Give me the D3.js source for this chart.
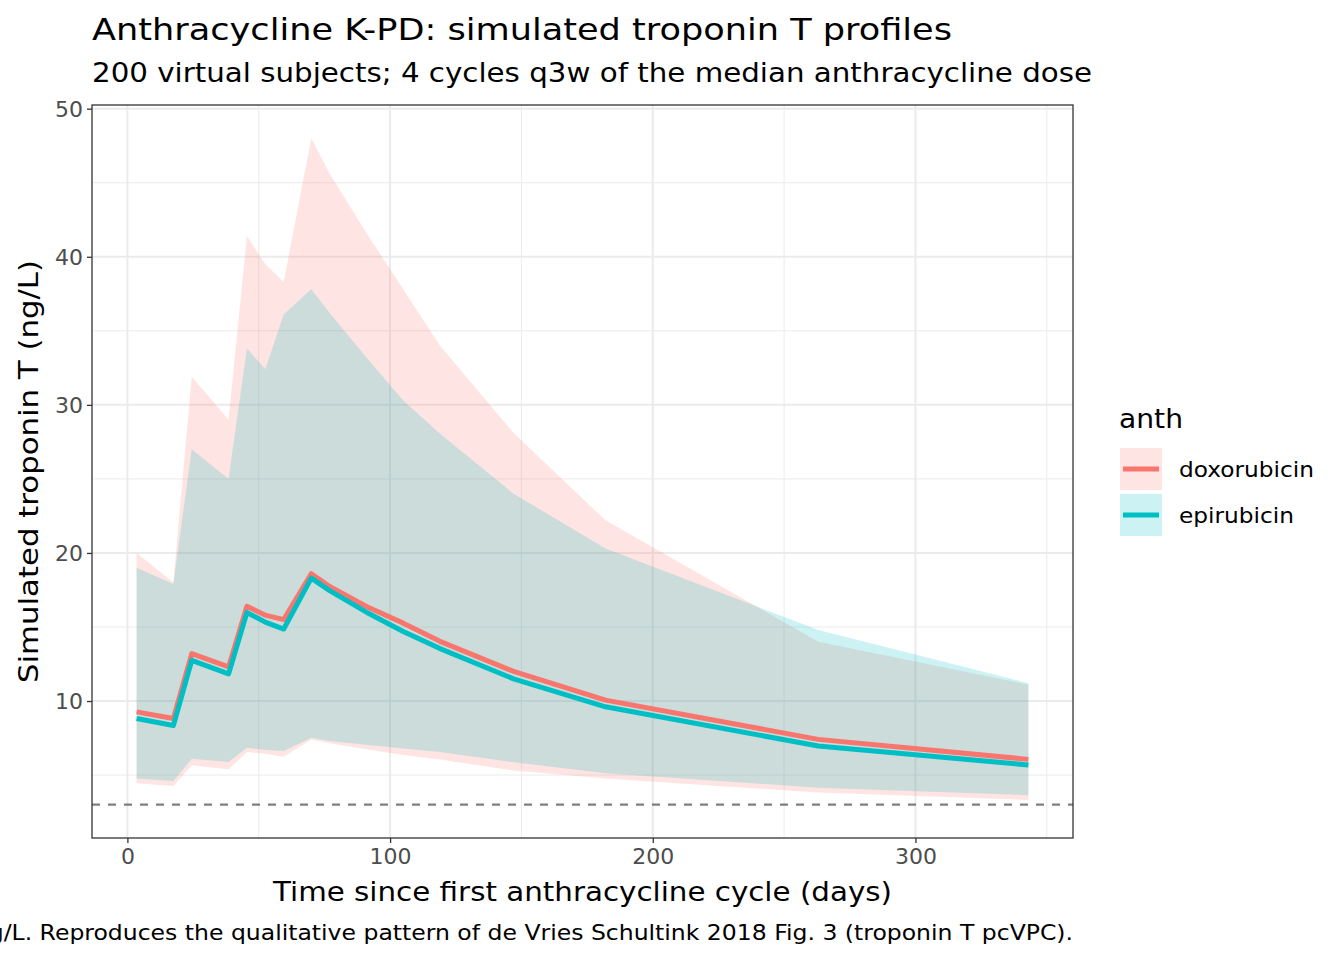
<!DOCTYPE html>
<html>
<head>
<meta charset="utf-8">
<script src="https://cdn.jsdelivr.net/npm/d3@7"></script>
<style>
  body { margin: 0; background: #fff; }
  text { font-family: "DejaVu Sans", sans-serif; }
</style>
</head>
<body>
<script>
const W = 1344, H = 960;

// sampling times (days since first cycle)
const times = [3.5, 17.5, 24.5, 38.5, 45.5, 52.5, 59.5, 70, 77, 91, 105, 119, 147, 182, 263, 343];

// doxorubicin: median and 5th / 95th percentile
const doxMed = [9.27, 8.82, 13.2, 12.3, 16.4, 15.8, 15.5, 18.6, 17.73, 16.38, 15.26, 14.03, 12.0, 10.06, 7.41, 6.06];
const doxLo  = [4.44, 4.26, 5.66, 5.39, 6.55, 6.44, 6.24, 7.41, 7.15, 6.75, 6.35, 6.05, 5.3, 4.76, 3.82, 3.32];
const doxHi  = [20.0, 18.0, 31.9, 29.0, 41.4, 39.5, 38.3, 48.0, 45.6, 41.6, 37.8, 34.0, 28.1, 22.2, 14.0, 11.1];

// epirubicin
const epiMed = [8.82, 8.35, 12.75, 11.83, 15.98, 15.33, 14.86, 18.3, 17.46, 16.0, 14.7, 13.54, 11.5, 9.61, 6.96, 5.68];
const epiLo  = [4.76, 4.6, 6.1, 5.88, 6.85, 6.69, 6.62, 7.52, 7.3, 7.05, 6.8, 6.55, 5.87, 5.12, 4.15, 3.64];
const epiHi  = [19.0, 17.9, 27.0, 25.0, 33.8, 32.4, 36.1, 37.8, 36.2, 33.2, 30.3, 28.05, 24.0, 20.3, 14.8, 11.2];

const groups = ["doxorubicin", "epirubicin"];
const colors = ["#F8766D", "#00BFC4"];
const lloq = 3;

const xTicks = [0, 100, 200, 300];
const xMinor = [50, 150, 250, 350];
const yTicks = [10, 20, 30, 40, 50];
const yMinor = [5, 15, 25, 35, 45];

const series = [
  {name: groups[0], col: colors[0], pts: times.map((t, i) => ({t, m: doxMed[i], lo: doxLo[i], hi: doxHi[i]}))},
  {name: groups[1], col: colors[1], pts: times.map((t, i) => ({t, m: epiMed[i], lo: epiLo[i], hi: epiHi[i]}))}
];

const L = 92, R = 1073, T = 105, B = 838;

const svg = d3.select('body').append('svg')
  .attr('width', W).attr('height', H);

// ggplot-like 5% expansion
const xr = [3.5, 343], yr = [3, 48];
const xe = (xr[1] - xr[0]) * 0.05, ye = (yr[1] - yr[0]) * 0.05;
const x = d3.scaleLinear().domain([xr[0] - xe, xr[1] + xe]).range([L, R]);
const y = d3.scaleLinear().domain([yr[0] - ye, yr[1] + ye]).range([B, T]);

// grid
const g = svg.append('g');
g.selectAll('.ymin').data(yMinor).join('line')
  .attr('x1', L).attr('x2', R).attr('y1', d => y(d)).attr('y2', d => y(d))
  .attr('stroke', '#EBEBEB').attr('stroke-width', 1);
g.selectAll('.xmin').data(xMinor).join('line')
  .attr('y1', T).attr('y2', B).attr('x1', d => x(d)).attr('x2', d => x(d))
  .attr('stroke', '#EBEBEB').attr('stroke-width', 1);
g.selectAll('.ymaj').data(yTicks).join('line')
  .attr('x1', L).attr('x2', R).attr('y1', d => y(d)).attr('y2', d => y(d))
  .attr('stroke', '#EBEBEB').attr('stroke-width', 2);
g.selectAll('.xmaj').data(xTicks).join('line')
  .attr('y1', T).attr('y2', B).attr('x1', d => x(d)).attr('x2', d => x(d))
  .attr('stroke', '#EBEBEB').attr('stroke-width', 2);

// ribbons
const area = d3.area().x(d => x(d.t)).y0(d => y(d.lo)).y1(d => y(d.hi));
svg.selectAll('.rib').data(series).join('path')
  .attr('d', d => area(d.pts))
  .attr('fill', d => d.col).attr('fill-opacity', 0.2);

// lloq
svg.append('line')
  .attr('x1', L).attr('x2', R).attr('y1', y(lloq)).attr('y2', y(lloq))
  .attr('stroke', '#7F7F7F').attr('stroke-width', 2.2).attr('stroke-dasharray', '8,8');

// medians
const line = d3.line().x(d => x(d.t)).y(d => y(d.m));
svg.selectAll('.med').data(series).join('path')
  .attr('d', d => line(d.pts))
  .attr('fill', 'none').attr('stroke', d => d.col).attr('stroke-width', 5)
  .attr('stroke-linejoin', 'round');

// panel border
svg.append('rect').attr('x', L).attr('y', T).attr('width', R - L).attr('height', B - T)
  .attr('fill', 'none').attr('stroke', '#333333').attr('stroke-width', 1.3);

// axes
const xAxis = svg.append('g').attr('transform', `translate(0,${B})`)
  .call(d3.axisBottom(x).tickValues(xTicks).tickSize(5).tickPadding(4));
const yAxis = svg.append('g').attr('transform', `translate(${L},0)`)
  .call(d3.axisLeft(y).tickValues(yTicks).tickSize(5).tickPadding(4));
[xAxis, yAxis].forEach(a => {
  a.select('.domain').remove();
  a.selectAll('line').attr('stroke', '#333333').attr('stroke-width', 1.3);
  a.selectAll('text').attr('fill', '#4D4D4D').style('font-size', '22px')
    .style('font-family', '"DejaVu Sans", sans-serif');
});
yAxis.selectAll('text').attr('dy', '0.36em');
xAxis.selectAll('text').attr('dy', '0.76em');

// titles (glyphs stretched a little to match the wide rendering)
svg.append('text').attr('x', L).attr('y', 40).style('font-size', '31px')
  .attr('textLength', 860).attr('lengthAdjust', 'spacingAndGlyphs')
  .text('Anthracycline K-PD: simulated troponin T profiles');
svg.append('text').attr('x', L).attr('y', 82).style('font-size', '26px')
  .attr('textLength', 1000).attr('lengthAdjust', 'spacingAndGlyphs')
  .text('200 virtual subjects; 4 cycles q3w of the median anthracycline dose');
svg.append('text').attr('x', 273).attr('y', 901)
  .style('font-size', '26px')
  .attr('textLength', 619).attr('lengthAdjust', 'spacingAndGlyphs')
  .text('Time since first anthracycline cycle (days)');
svg.append('text').attr('transform', `translate(38,683) rotate(-90)`)
  .style('font-size', '26px')
  .attr('textLength', 423).attr('lengthAdjust', 'spacingAndGlyphs')
  .text('Simulated troponin T (ng/L)');

const cap = svg.append('text').attr('x', R).attr('y', 940).attr('text-anchor', 'end')
  .style('font-size', '21px')
  .text('Ribbons: 5th\u201395th percentiles; lines: median; dashed line: LLOQ = 3 ng/L. Reproduces the qualitative pattern of de Vries Schultink 2018 Fig. 3 (troponin T pcVPC).');
cap.attr('textLength', cap.node().getComputedTextLength() * 1.12)
  .attr('lengthAdjust', 'spacingAndGlyphs');

// legend
const lg = svg.append('g');
lg.append('text').attr('x', 1119).attr('y', 428).style('font-size', '26px')
  .attr('textLength', 64).attr('lengthAdjust', 'spacingAndGlyphs').text('anth');
const labLen = [135, 115];
const items = lg.selectAll('.item').data(series).join('g')
  .attr('transform', (d, i) => `translate(1120,${448 + i * 46})`);
items.append('rect').attr('width', 42).attr('height', 42)
  .attr('fill', d => d.col).attr('fill-opacity', 0.2);
items.append('line').attr('x1', 3).attr('x2', 39).attr('y1', 21).attr('y2', 21)
  .attr('stroke', d => d.col).attr('stroke-width', 5);
items.append('text').attr('x', 59).attr('y', 21).attr('dy', '0.36em')
  .style('font-size', '21px')
  .attr('textLength', (d, i) => labLen[i]).attr('lengthAdjust', 'spacingAndGlyphs')
  .text(d => d.name);
</script>
</body>
</html>
